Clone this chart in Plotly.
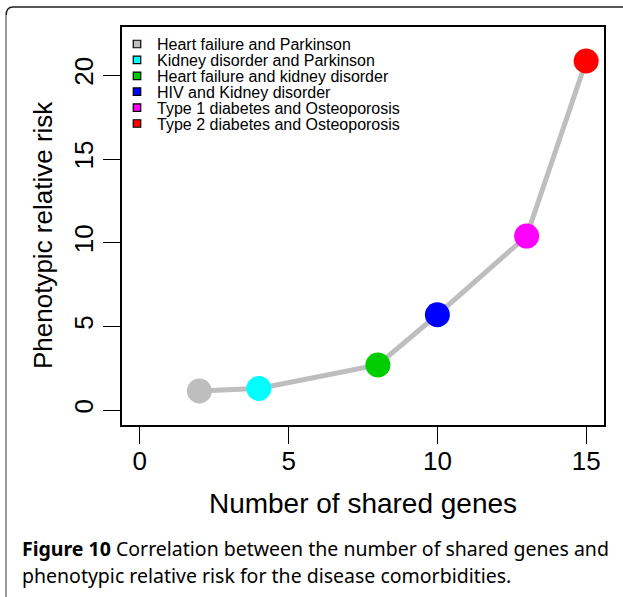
import plotly.graph_objects as go

categories = ["Heart failure and Parkinson", "Kidney disorder and Parkinson",
              "Heart failure and kidney disorder", "HIV and Kidney disorder",
              "Type 1 diabetes and Osteoporosis", "Type 2 diabetes and Osteoporosis"]
shared_genes = [2, 4, 8, 10, 13, 15]
relative_risk = [1.15, 1.3, 2.7, 5.7, 10.4, 20.85]
colors = ["#BEBEBE", "#00FFFF", "#00CD00", "#0000FF", "#FF00FF", "#FF0000"]
x_ticks = [0, 5, 10, 15]
y_ticks = [0, 5, 10, 15, 20]

W, H = 623, 597
L, R, T, B = 122, 19, 27, 172
FONT = "Liberation Sans, Arial, sans-serif"
CAP_FONT = "Noto Sans, Open Sans, sans-serif"

fig = go.Figure()
fig.add_trace(go.Scatter(x=shared_genes, y=relative_risk, mode="lines",
                         line=dict(color="#BEBEBE", width=5), showlegend=False, hoverinfo="skip"))
fig.add_trace(go.Scatter(x=shared_genes, y=relative_risk, mode="markers",
                         marker=dict(color=colors, size=25, line=dict(width=0)),
                         showlegend=False, text=categories))


def px_x(p):
    return (p - L) / (W - L - R)


def px_y(p):
    return 1 - (p - T) / (H - T - B)


# legend (drawn manually to match compact R legend spacing)
row0, row_gap, sq = 44, 15.9, 7.5
for i, (name, c) in enumerate(zip(categories, colors)):
    yc = row0 + i * row_gap
    fig.add_shape(type="rect", xref="paper", yref="paper",
                  x0=px_x(137 - sq / 2), x1=px_x(137 + sq / 2),
                  y0=px_y(yc + sq / 2), y1=px_y(yc - sq / 2),
                  fillcolor=c, line=dict(color="black", width=1.2))
    fig.add_annotation(xref="paper", yref="paper", x=px_x(155), y=px_y(yc + 0.5),
                       xanchor="left", yanchor="middle", text=name, showarrow=False,
                       font=dict(family=FONT, size=16, color="black"))

# outer figure frame (rounded top-left corner)
fig.add_shape(type="path", xref="paper", yref="paper",
              path=f"M {px_x(6)},{px_y(16)} Q {px_x(6)},{px_y(7)} {px_x(13)},{px_y(7)} L {px_x(630)},{px_y(7)}",
              line=dict(color="#222222", width=1.5))
fig.add_shape(type="line", xref="paper", yref="paper",
              x0=px_x(6), y0=px_y(600), x1=px_x(6), y1=px_y(15),
              line=dict(color="#9a9a9a", width=2))

# y axis title (R places it centred slightly below plot centre)
fig.add_annotation(xref="paper", yref="paper", x=px_x(43), y=px_y(235), xanchor="center", yanchor="middle",
                   text="Phenotypic relative risk", textangle=-90, showarrow=False,
                   font=dict(family=FONT, size=26, color="black"))

fig.add_annotation(xref="paper", yref="paper", x=px_x(20), y=px_y(548), xanchor="left", yanchor="middle",
                   text="<b>Figure 10</b> Correlation between the number of shared genes and",
                   showarrow=False, font=dict(family=CAP_FONT, size=19.5, color="black"))
fig.add_annotation(xref="paper", yref="paper", x=px_x(20), y=px_y(575), xanchor="left", yanchor="middle",
                   text="phenotypic relative risk for the disease comorbidities.",
                   showarrow=False, font=dict(family=CAP_FONT, size=19.5, color="black"))

fig.update_layout(
    width=W, height=H, margin=dict(l=L, r=R, t=T, b=B),
    paper_bgcolor="white", plot_bgcolor="white",
    font=dict(family=FONT, color="black"),
    showlegend=False,
    xaxis=dict(range=[-0.6, 15.6], tickvals=x_ticks, ticks="outside", ticklen=17,
               tickwidth=1.3, tickcolor="black", showline=True, linecolor="black", linewidth=1.5,
               mirror=True, showgrid=False, zeroline=False, tickfont=dict(size=26),
               ticklabelstandoff=-5,
               title=dict(text="Number of shared genes", font=dict(size=28), standoff=18)),
    yaxis=dict(range=[-0.88, 22.88], tickvals=y_ticks, ticks="outside", ticklen=17,
               tickwidth=1.3, tickcolor="black", showline=True, linecolor="black", linewidth=1.5,
               mirror=True, showgrid=False, zeroline=False, tickfont=dict(size=26), tickangle=-90),
)
fig.write_html("out.html")
